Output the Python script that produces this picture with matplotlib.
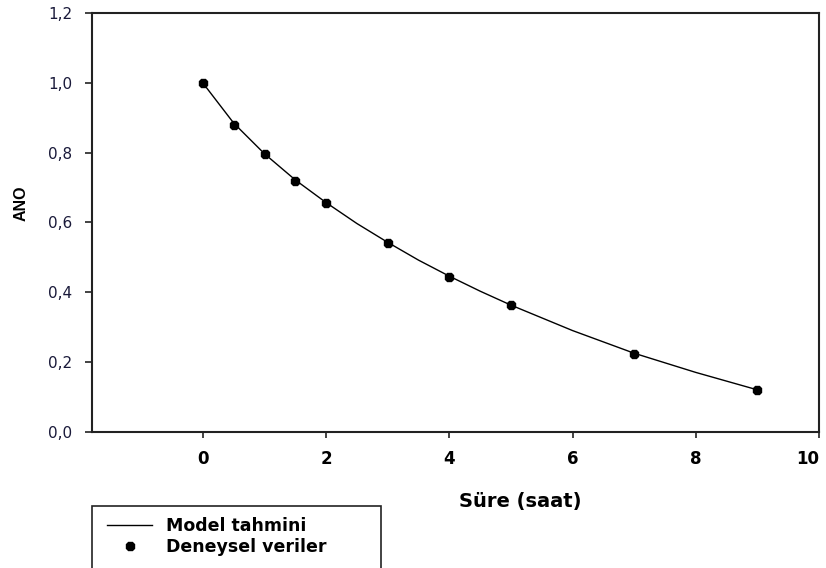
"""ANO decay chart: model curve vs experimental points."""
import matplotlib
matplotlib.use("Agg")
import matplotlib.pyplot as plt
from matplotlib.patches import Rectangle

plt.rcParams["font.family"] = ["DejaVu Sans"]

# Experimental data (time in hours, ANO)
exp_time = [0, 0.5, 1, 1.5, 2, 3, 4, 5, 7, 9]
exp_ano = [1.0, 0.88, 0.795, 0.72, 0.655, 0.54, 0.445, 0.363, 0.222, 0.12]

# Model curve
model_time = [0, 0.5, 1, 1.5, 2, 2.5, 3, 3.5, 4, 4.5, 5, 6, 7, 8, 9]
model_ano = [1.0, 0.885, 0.797, 0.722, 0.657, 0.597, 0.543, 0.492, 0.446, 0.403,
             0.363, 0.29, 0.225, 0.17, 0.12]

x_ticks = [0, 2, 4, 6, 8, 10]
y_ticks = [0.0, 0.2, 0.4, 0.6, 0.8, 1.0, 1.2]
y_tick_labels = ["0,0", "0,2", "0,4", "0,6", "0,8", "1,0", "1,2"]

fig = plt.figure(figsize=(8.26, 5.68), dpi=100)
ax = fig.add_axes([0.1114, 0.240, 0.8801, 0.7366])

model_line, = ax.plot(model_time, model_ano, color="black", linewidth=1.0,
                      label="Model tahmini")
exp_pts, = ax.plot(exp_time, exp_ano, linestyle="none", marker="8", markersize=7,
                   color="black", label="Deneysel veriler")

ax.set_xlim(-1.8, 10)
ax.set_ylim(0, 1.2)
ax.set_xticks(x_ticks)
ax.set_yticks(y_ticks)
ax.set_yticklabels(y_tick_labels)

for spine in ax.spines.values():
    spine.set_linewidth(1.5)
    spine.set_color("#222222")

ax.tick_params(axis="x", direction="out", length=4.5, width=1.2, pad=9,
               labelsize=12, colors="#222222", labelcolor="black")
ax.tick_params(axis="y", direction="out", length=5, width=1.2, pad=9,
               labelsize=11, colors="#222222", labelcolor="#1a1a3a")
for lbl in ax.get_xticklabels():
    lbl.set_fontweight("bold")
# last x label sits against the right edge of the picture
ax.get_xticklabels()[-1].set_horizontalalignment("right")

ax.set_xlabel("Süre (saat)", fontsize=14, fontweight="bold", va="center")
ax.xaxis.set_label_coords(0.589, -0.166)
ax.set_ylabel("ANO", fontsize=11.5, fontweight="bold", va="center",
              family="Liberation Sans")
ax.yaxis.set_label_coords(-0.0977, 0.547)

# legend box, cut off at bottom of figure
fig.patches.append(Rectangle((0.1114, -0.1), 0.35, 0.2097, transform=fig.transFigure,
                             fill=False, edgecolor="#222222", linewidth=1.2))
fig.legend(handles=[model_line, exp_pts], loc="upper left",
           bbox_to_anchor=(0.1295, 0.0898), frameon=False, borderpad=0,
           borderaxespad=0, prop={"size": 12.5, "weight": "bold"},
           handlelength=2.6, handletextpad=0.8, labelspacing=0.2)

fig.savefig("out.png", dpi=100)
